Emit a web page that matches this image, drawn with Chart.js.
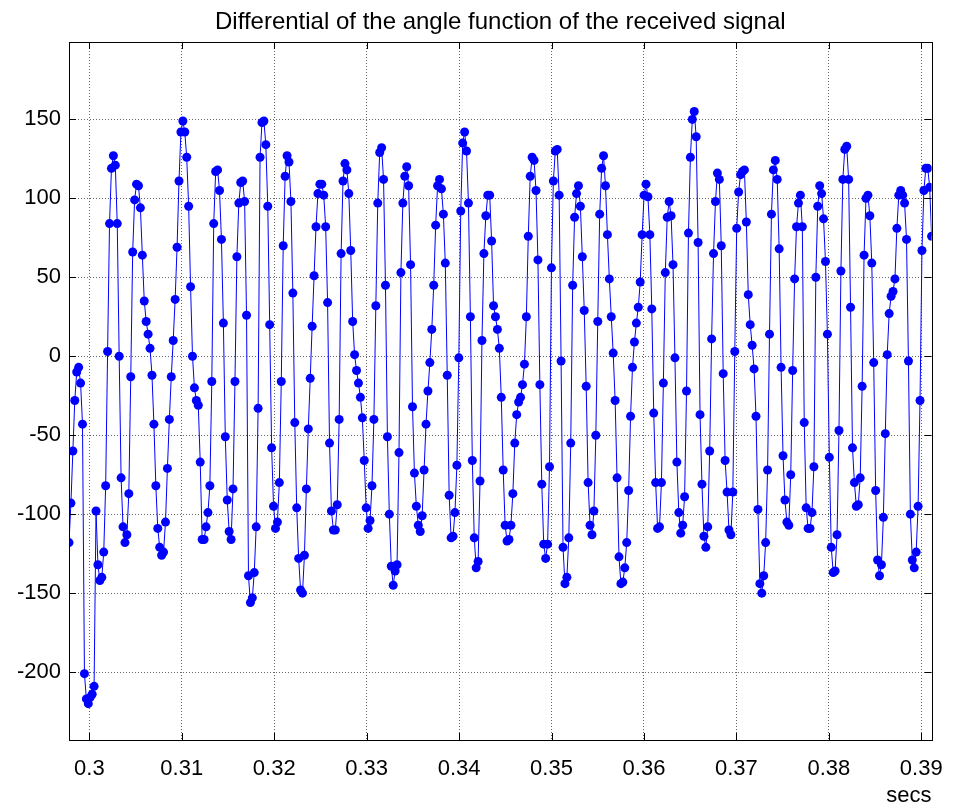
<!DOCTYPE html>
<html>
<head>
<meta charset="utf-8">
<script src="https://cdn.jsdelivr.net/npm/chart.js@4.4.1/dist/chart.umd.min.js"></script>
<style>
  html, body { margin: 0; padding: 0; background: #fff; }
  canvas { display: block; }
</style>
</head>
<body>
<canvas id="chart" width="959" height="807"></canvas>
<script>
const startTime = 0.2978;
const sampleRate = 4790;
const phaseDiff = [
  -118, -93, -60, -28, -10, -7, -17, -43, -201, -217, -220, -216, -214, -209, -98, -132, -142, -140, -124, -82,
  3, 84, 119, 127, 121, 84, 0, -77, -108, -118, -113, -87, -13, 66, 99, 109, 108, 94, 64, 35, 22,
  14, 5, -12, -43, -82, -109, -121, -126, -124, -105, -71, -40, -13, 10, 36, 69, 111, 142, 149, 142,
  126, 95, 44, 0, -20, -28, -31, -67, -116, -116, -108, -99, -82, -16, 84, 117, 118, 105, 74, 21,
  -51, -91, -111, -116, -84, -16, 63, 97, 110, 111, 98, 26, -139, -156, -153, -137, -108, -33, 126, 148,
  149, 134, 95, 20, -58, -95, -109, -105, -80, -16, 70, 114, 127, 123, 98, 40, -42, -96,
  -128, -148, -150, -126, -84, -46, -14, 19, 51, 82, 103, 109, 109, 102, 82, 34, -55, -98, -110, -110,
  -94, -40, 65, 111, 122, 118, 103, 67, 22, 1, -9, -17, -26, -39, -66, -96, -109, -104, -82, -40, 32, 97, 129,
  132, 112, 45, -51, -100, -133, -145, -136, -132, -61, 53, 97, 114, 120, 108, 58, -32, -74, -95, -107,
  -111, -101, -72, -43, -22, -4, 17, 45, 83, 108, 112, 106, 90, 59, -12, -88, -115, -114, -99, -69, -1,
  92, 135, 142, 130, 97, 25, -66, -115, -134, -130, -79, 10, 65, 89, 102, 102, 73, 32, 25, 17,
  5, -26, -72, -107, -117, -116, -107, -87, -55, -37, -29, -26, -18, -5, 25, 76, 114, 126,
  124, 105, 61, -18, -81, -119, -128, -119, -70, 56, 111, 130, 131, 102, -3, -121, -144, -140, -115, -55,
  45, 88, 103, 108, 95, 63, 29, -19, -80, -107, -113, -98, -50, 22, 90, 119, 127, 108, 77, 49, 25,
  2, -28, -77, -127, -144, -143, -134, -118, -85, -38, -7, 9, 21, 31, 47, 77, 102, 109, 101, 77,
  30, -36, -80, -109, -108, -80, -17, 53, 88, 98, 89, 58, -1, -67, -99, -112, -107, -89, -22,
  78, 126, 150, 155, 139, 72, -37, -81, -114, -121, -108, -60, 11, 65, 98, 116, 112, 70, -11, -66,
  -86, -110, -113, -86, 3, 81, 104, 115, 117, 118, 85, 39, 20, 7, -8, -38, -97, -144, -150, -139,
  -118, -72, 14, 90, 118, 124, 112, 68, -7, -63, -91, -105, -107, -75, -9, 49, 82, 97, 102, 82,
  -42, -96, -109, -109, -99, -70, 50, 95, 108, 103, 87, 60, 14, -64, -121, -137, -136, -113, -47, 54,
  112, 131, 133, 112, 31, -58, -80, -95, -94, -77, -19, 64, 100, 102, 89, 59, -4, -85, -129, -139,
  -132, -102, -49, 1, 27, 38, 41, 49, 81, 102, 105, 102, 97, 74, -3, -100, -129, -134, -124, -95,
  -28, 67, 105, 119, 119, 107, 76
];

const xTicks = [0.30, 0.31, 0.32, 0.33, 0.34, 0.35, 0.36, 0.37, 0.38, 0.39];
const xTickLabels = ['0.3', '0.31', '0.32', '0.33', '0.34', '0.35', '0.36', '0.37', '0.38', '0.39'];
const yTicks = [-200, -150, -100, -50, 0, 50, 100, 150];
const yMin = -243;
const yMax = 199;

const points = phaseDiff.map((v, i) => ({ x: startTime + i / sampleRate, y: v }));
const xMin = points[0].x;
const xMax = points[points.length - 1].x;

// matlab style box with inward ticks
const boxPlugin = {
  id: 'box',
  afterDraw(chart) {
    const { ctx, chartArea: a, scales } = chart;
    const len = 7;
    ctx.save();
    ctx.strokeStyle = '#000';
    ctx.lineWidth = 1;
    ctx.beginPath();
    xTicks.forEach(v => {
      const px = Math.round(scales.x.getPixelForValue(v)) + 0.5;
      ctx.moveTo(px, a.bottom); ctx.lineTo(px, a.bottom - len);
      ctx.moveTo(px, a.top); ctx.lineTo(px, a.top + len);
    });
    yTicks.forEach(v => {
      const py = Math.round(scales.y.getPixelForValue(v)) + 0.5;
      ctx.moveTo(a.left, py); ctx.lineTo(a.left + len, py);
      ctx.moveTo(a.right, py); ctx.lineTo(a.right - len, py);
    });
    ctx.stroke();
    ctx.strokeRect(Math.round(a.left) + 0.5, Math.round(a.top) + 0.5,
      Math.round(a.right - a.left), Math.round(a.bottom - a.top));
    ctx.restore();
  }
};

const font = { family: '"Liberation Sans", Arial, sans-serif', size: 22 };

new Chart(document.getElementById('chart'), {
  type: 'line',
  data: {
    datasets: [{
      data: points,
      borderColor: '#0000ff',
      borderWidth: 1,
      pointRadius: 4.5,
      pointBackgroundColor: '#0000ff',
      pointBorderWidth: 0,
      tension: 0
    }]
  },
  options: {
    responsive: false,
    animation: false,
    devicePixelRatio: 1,
    layout: { padding: { left: 0, right: 20, top: 0, bottom: 0 } },
    plugins: {
      legend: { display: false },
      tooltip: { enabled: false },
      title: {
        display: true,
        fullSize: false,
        text: 'Differential of the angle function of the received signal',
        color: '#000',
        font: { family: font.family, size: 24, weight: 'normal' },
        padding: { top: 8, bottom: 5.2 }
      }
    },
    scales: {
      x: {
        type: 'linear',
        min: xMin,
        max: xMax,
        afterBuildTicks: s => { s.ticks = xTicks.map(v => ({ value: v })); },
        afterFit: s => { s.height = 67; },
        ticks: {
          color: '#000',
          font: font,
          padding: 16,
          maxRotation: 0,
          callback: (v, i) => xTickLabels[i]
        },
        grid: { color: '#666', drawTicks: false, lineWidth: 1 },
        border: { display: false, dash: [1, 2] },
        title: {
          display: true,
          text: 'secs',
          align: 'end',
          color: '#000',
          font: { family: font.family, size: 22, lineHeight: 1.0 },
          padding: { top: 0, bottom: 0 }
        }
      },
      y: {
        min: yMin,
        max: yMax,
        afterBuildTicks: s => { s.ticks = yTicks.map(v => ({ value: v })); },
        afterFit: s => { s.width = 69; },
        ticks: { color: '#000', font: font, padding: 8 },
        grid: { color: '#666', drawTicks: false, lineWidth: 1 },
        border: { display: false, dash: [1, 2] }
      }
    }
  },
  plugins: [boxPlugin]
});
</script>
</body>
</html>
